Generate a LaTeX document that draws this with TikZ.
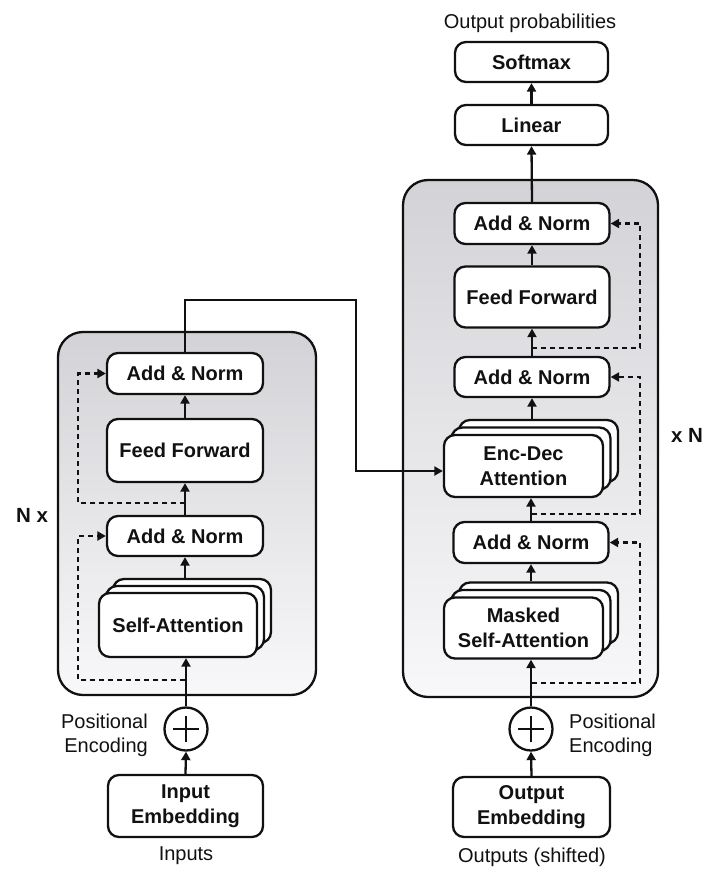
\documentclass[tikz,border=0pt]{standalone}
\usepackage{fontspec}
\setmainfont{Liberation Sans}
\usetikzlibrary{arrows.meta,calc}

\definecolor{ink}{HTML}{111111}
\definecolor{stacktop}{HTML}{D3D3D7}
\definecolor{stackbot}{HTML}{F8F8FA}

\tikzset{
  lbl/.style={font=\fontsize{20}{24.5}\selectfont, text=ink, align=center, inner sep=0pt},
  blk/.style={lbl, font=\bfseries\fontsize{20}{24.5}\selectfont, draw=ink, line width=2.3pt,
              fill=white, rounded corners=11pt},
  layer/.style={draw=ink, line width=2.3pt, fill=white, rounded corners=11pt, inner sep=0pt},
  stack/.style={draw=ink, line width=2.3pt, rounded corners=25pt, top color=stacktop, bottom color=stackbot},
  arr/.style={draw=ink, line width=2.3pt, -{Triangle[length=8.5pt,width=9pt]}},
  res/.style={arr, dash pattern=on 5pt off 4pt},
  plus/.style={circle, draw=ink, line width=2.3pt, fill=white, minimum size=43pt, inner sep=0pt,
               path picture={\draw[ink, line width=2.3pt]
                 ([xshift=-13pt]path picture bounding box.center) -- ([xshift=13pt]path picture bounding box.center)
                 ([yshift=-13pt]path picture bounding box.center) -- ([yshift=13pt]path picture bounding box.center);}}
}

\begin{document}
\begin{tikzpicture}[x=1pt, y=-1pt]
\useasboundingbox (0,0) rectangle (705,870);

% ---------------- encoder ----------------
\draw[stack] (58,332) rectangle (316,695);

\node[blk, minimum width=156pt, minimum height=41pt] (encAN2) at (185,373.5) {Add \& Norm};
\node[blk, minimum width=156pt, minimum height=63pt] (encFF)  at (185,450.5) {Feed Forward};
\node[blk, minimum width=156pt, minimum height=40pt] (encAN1) at (185,536)   {Add \& Norm};

\node[layer, minimum width=158pt, minimum height=64pt] (encSA3) at (192,611) {};
\node[layer, minimum width=158pt, minimum height=64pt] (encSA2) at (185,618) {};
\node[blk,   minimum width=158pt, minimum height=64pt] (encSA)  at (178,625) {Self-Attention};

\node[plus] (encPE) at (186,729) {};
\node[lbl, anchor=east, align=right] (encPEl) at (148,735.5) {Positional\\Encoding};
\node[blk, minimum width=155pt, minimum height=62pt] (encEmb) at (185.5,806) {Input\\Embedding};
\node[lbl] (encIn) at (186,856) {Inputs};

\node[lbl, font=\bfseries\fontsize{20.5}{24}\selectfont] (encN) at (32,515) {N x};

\coordinate (encR1) at (185,680);
\coordinate (encR2) at (185,503);

\draw[arr] (encEmb.north) -- (encPE.south);
\draw[arr] (encPE.north) -- (encPE.north |- encSA.south);
\draw[arr] (encAN1.south |- encSA3.north) -- (encAN1.south);
\draw[arr] (encAN1.north) -- (encFF.south);
\draw[arr] (encFF.north) -- (encAN2.south);
\draw[res] (encR1) -| (78,536) -- (encAN1.west);
\draw[res] (encR2) -| (78,373.5) -- (encAN2.west);

% ---------------- decoder ----------------
\draw[stack] (403,180) rectangle (658,697);

\node[blk, minimum width=155pt, minimum height=41pt] (decAN3) at (532,223.5) {Add \& Norm};
\node[blk, minimum width=155pt, minimum height=61pt] (decFF)  at (532,297)   {Feed Forward};
\node[blk, minimum width=155pt, minimum height=40pt] (decAN2) at (532,377)   {Add \& Norm};

\node[layer, minimum width=159pt, minimum height=62pt] (decED3) at (538.5,451) {};
\node[layer, minimum width=159pt, minimum height=62pt] (decED2) at (531,458.5) {};
\node[blk,   minimum width=159pt, minimum height=62pt] (decED)  at (523.5,466) {Enc-Dec\\Attention};

\node[blk, minimum width=155pt, minimum height=41pt] (decAN1) at (531,542.5) {Add \& Norm};

\node[layer, minimum width=159pt, minimum height=61pt] (decMSA3) at (538.5,613) {};
\node[layer, minimum width=159pt, minimum height=61pt] (decMSA2) at (531,620.5) {};
\node[blk,   minimum width=159pt, minimum height=61pt] (decMSA)  at (523.5,628) {Masked\\Self-Attention};

\node[plus] (decPE) at (531,729) {};
\node[lbl, anchor=west, align=left] (decPEl) at (569,735.5) {Positional\\Encoding};
\node[blk, minimum width=157pt, minimum height=60pt] (decEmb) at (531.5,807) {Output\\Embedding};
\node[lbl] (decIn) at (532,857) {Outputs (shifted)};

\node[blk, minimum width=153pt, minimum height=40pt] (lin)  at (531.5,125) {Linear};
\node[blk, minimum width=153pt, minimum height=40pt] (soft) at (531.5,62)  {Softmax};
\node[lbl] (probs) at (530,23) {Output probabilities};

\node[lbl, font=\bfseries\fontsize{20.5}{24}\selectfont] (decN) at (687,435) {x N};

\coordinate (decR1) at (532,683);
\coordinate (decR2) at (532,514);
\coordinate (decR3) at (532,348);

\draw[arr] (decEmb.north) -- (decPE.south);
\draw[arr] (decPE.north) -- (decPE.north |- decMSA.south);
\draw[arr] (decAN1.south |- decMSA3.north) -- (decAN1.south);
\draw[arr] (decAN1.north) -- (decAN1.north |- decED.south);
\draw[arr] (decAN2.south |- decED3.north) -- (decAN2.south);
\draw[arr] (decAN2.north) -- (decFF.south);
\draw[arr] (decFF.north) -- (decAN3.south);
\draw[arr] (decAN3.north) -- (lin.south);
\draw[arr] (lin.north) -- (soft.south);
\draw[res] (decR1) -| (640,542.5) -- (decAN1.east);
\draw[res] (decR2) -| (640,377) -- (decAN2.east);
\draw[res] (decR3) -| (640,223.5) -- (decAN3.east);

% encoder output feeding the encoder-decoder attention
\draw[arr] (encAN2.north) |- (356,300) |- ([yshift=-5pt]decED.west);
\end{tikzpicture}
\end{document}
